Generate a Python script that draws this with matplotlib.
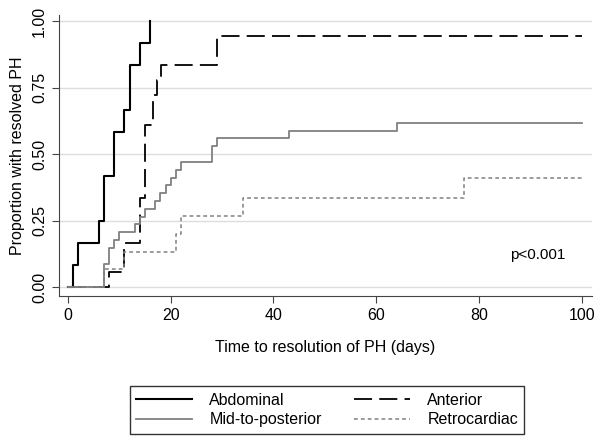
import numpy as np
import matplotlib
matplotlib.use("Agg")
import matplotlib.pyplot as plt

plt.rcParams['font.family'] = ['Liberation Sans', 'DejaVu Sans']

# Kaplan-Meier style step data (time in days, cumulative proportion resolved)
abd_t = [0, 1, 2, 6, 7, 9, 11, 12, 14, 16]
abd_p = [0, 1/12, 2/12, 3/12, 5/12, 7/12, 8/12, 10/12, 11/12, 1.0]

ant_t = [0, 8, 11, 14, 15, 16.5, 17.4, 18.2, 29, 100]
ant_p = [0, 1/18, 3/18, 6/18, 11/18, 13/18, 14/18, 15/18, 17/18, 17/18]

mid_t = [0, 7, 8, 9, 10, 13, 14, 15, 17, 18, 19, 20, 21, 22, 28, 29, 43, 64, 100]
mid_p = [0, 3/34, 5/34, 6/34, 7/34, 8/34, 9/34, 10/34, 11/34, 12/34, 13/34,
         14/34, 15/34, 16/34, 18/34, 19/34, 20/34, 21/34, 21/34]

ret_t = [0, 7, 11, 21, 22, 34, 77, 100]
ret_p = [0, 0.067, 0.133, 0.2, 0.267, 0.335, 0.41, 0.41]

labels = ['Abdominal', 'Mid-to-posterior', 'Anterior', 'Retrocardiac']

fig = plt.figure(figsize=(6.01, 4.40), dpi=100)
ax = fig.add_axes([0.098, 0.327, 0.887, 0.639])

l1, = ax.step(abd_t, abd_p, where='post', color='black', lw=1.5)
l2, = ax.step(ant_t, ant_p, where='post', color='black', lw=1.3, dashes=(10, 4))
l3, = ax.step(mid_t, mid_p, where='post', color='#808080', lw=1.3)
l4, = ax.step(ret_t, ret_p, where='post', color='#808080', lw=1.1, dashes=(2.5, 2))

ax.set_xlim(-1.75, 102)
ax.set_ylim(-0.034, 1.023)
ax.set_xticks([0, 20, 40, 60, 80, 100])
ax.set_yticks([0, 0.25, 0.5, 0.75, 1.0])
ax.set_yticklabels(['0.00', '0.25', '0.50', '0.75', '1.00'], rotation=90, va='center')
ax.yaxis.grid(True, color='#dddddd', lw=1)
ax.set_axisbelow(True)
for s in ['top', 'right']:
    ax.spines[s].set_visible(False)
for s in ['left', 'bottom']:
    ax.spines[s].set_color('#444444')
ax.tick_params(axis='both', labelsize=11.5, length=5, color='#444444', direction='out')
ax.set_xlabel('Time to resolution of PH (days)', fontsize=11.5, labelpad=12)
ax.set_ylabel('Proportion with resolved PH', fontsize=11.5, labelpad=5)

ax.text(91.5, 0.12, 'p<0.001', fontsize=11, ha='center', va='center')

fig.legend([l1, l3, l2, l4], labels, ncol=2, loc='center',
           bbox_to_anchor=(327 / 601, 1 - 410 / 440), fontsize=11.5,
           frameon=True, fancybox=False, edgecolor='black', handlelength=3.5,
           columnspacing=2.0, handletextpad=1.1, borderpad=0.4, labelspacing=0.3)

fig.savefig('out.png', dpi=100)
